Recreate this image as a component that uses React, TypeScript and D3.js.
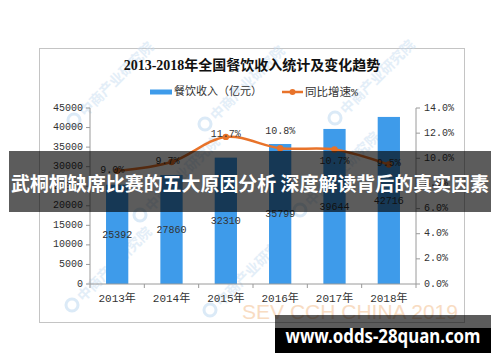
import React from 'react';
import * as d3 from 'd3';

const categories = ['2013年', '2014年', '2015年', '2016年', '2017年', '2018年'];
const revenue = [25392, 27860, 32310, 35799, 39644, 42716];
const growth = [9.0, 9.7, 11.7, 10.8, 10.7, 9.5];
const leftTicks = [0, 5000, 10000, 15000, 20000, 25000, 30000, 35000, 40000, 45000];
const rightTicks = [0, 2, 4, 6, 8, 10, 12, 14];
const title = '2013-2018年全国餐饮收入统计及变化趋势';
const seriesNames = ['餐饮收入（亿元）', '同比增速%'];
const bannerText = '武桐桐缺席比赛的五大原因分析 深度解读背后的真实因素';
const footerText = 'www.odds-28quan.com';
const watermark = '中商产业研究院';

// style-only: label nudges for the growth labels
const growthLabelNudge = [[-5, 0], [-4, -1], [0, -2], [0, -17], [0, 12], [0, -1]];
const watermarkSpots = [[74, 120], [205, 124], [335, 118], [72, 305], [210, 310], [140, 215], [300, 210]];

const W = 500, H = 362;
const plot = { left: 90, right: 416, top: 108, bottom: 284 };
const BLUE = '#3E9BEA';
const ORANGE = '#E8732A';
const MONO = '"Liberation Mono", "Noto Sans CJK SC", monospace';

export default function App() {
  const x = d3.scaleBand<string>().domain(categories).range([plot.left, plot.right]).padding(0);
  const yL = d3.scaleLinear().domain([0, 45000]).range([plot.bottom, plot.top]);
  const yR = d3.scaleLinear().domain([0, 14]).range([plot.bottom, plot.top]);
  const barW = x.bandwidth() * 0.41;
  const cx = (c: string) => (x(c) as number) + x.bandwidth() / 2;
  const pts: [number, number][] = categories.map((c, i) => [cx(c), yR(growth[i])]);
  const line = d3.line().curve(d3.curveCatmullRom.alpha(0.5))(pts) as string;
  const fmt1 = d3.format('.1f');
  const boundaries = [plot.left, ...categories.map(c => (x(c) as number) + x.bandwidth())];

  return (
    <svg width={W} height={H} style={{ position: 'fixed', left: 0, top: 0, background: '#fff' }}>
      <rect x={0} y={0} width={W} height={H} fill="#fff" />
      {/* chart frame */}
      <rect x={39.5} y={48.5} width={425} height={274} fill="#fff" stroke="#c4c4c4" />
      {/* watermarks */}
      {watermarkSpots.map(([wx, wy], i) => (
        <g key={i} transform={`translate(${wx},${wy}) rotate(-45)`} opacity={0.5}>
          <circle cx={0} cy={0} r={6} fill="none" stroke="#b9d6f0" strokeWidth={3} />
          <text x={10} y={0} dominantBaseline="central" fontSize={14} fontWeight="bold"
            fontFamily='"Noto Sans CJK SC", sans-serif' fill="#c9def2">{watermark}</text>
        </g>
      ))}
      <text x={350} y={311} textAnchor="middle" dominantBaseline="central" fontSize={21}
        fontFamily='"Liberation Sans", Arial, sans-serif' fill="#f7d4b4" opacity={0.8}>SEV CCH CHINA 2019</text>

      {/* title */}
      <text x={252} y={65} textAnchor="middle" dominantBaseline="central" fontSize={14} fontWeight="bold"
        fontFamily='"Liberation Serif", "Noto Sans CJK SC", serif' fill="#111">{title}</text>

      {/* legend */}
      <rect x={150} y={89.5} width={22} height={5} fill={BLUE} />
      <text x={174} y={92} dominantBaseline="central" fontSize={11} fontFamily={MONO} fill="#333">{seriesNames[0]}</text>
      <line x1={282} x2={303} y1={92} y2={92} stroke={ORANGE} strokeWidth={2.5} />
      <circle cx={292.5} cy={92} r={3} fill={ORANGE} />
      <text x={305} y={92} dominantBaseline="central" fontSize={11.5} fontFamily={MONO} fill="#333">{seriesNames[1]}</text>

      {/* bars */}
      {categories.map((c, i) => (
        <rect key={c} x={cx(c) - barW / 2} y={yL(revenue[i])} width={barW} height={plot.bottom - yL(revenue[i])} fill={BLUE} />
      ))}
      {categories.map((c, i) => (
        <text key={'bl' + c} x={cx(c)} y={(yL(revenue[i]) + plot.bottom) / 2 + 1} textAnchor="middle" dominantBaseline="central"
          fontSize={10} fontFamily={MONO} fill="#333">{revenue[i]}</text>
      ))}

      {/* axes */}
      <line x1={plot.left} x2={plot.left} y1={plot.top} y2={plot.bottom} stroke="#9a9a9a" />
      <line x1={plot.right} x2={plot.right} y1={plot.top} y2={plot.bottom} stroke="#9a9a9a" />
      <line x1={plot.left} x2={plot.right} y1={plot.bottom} y2={plot.bottom} stroke="#9a9a9a" />
      {leftTicks.map(t => (
        <g key={'l' + t}>
          <line x1={plot.left - 4} x2={plot.left} y1={yL(t)} y2={yL(t)} stroke="#9a9a9a" />
          <text x={83} y={yL(t)} textAnchor="end" dominantBaseline="central" fontSize={10} fontFamily={MONO} fill="#333">{t}</text>
        </g>
      ))}
      {rightTicks.map(t => (
        <g key={'r' + t}>
          <line x1={plot.right} x2={plot.right + 4} y1={yR(t)} y2={yR(t)} stroke="#9a9a9a" />
          <text x={424} y={yR(t)} dominantBaseline="central" fontSize={10} fontFamily={MONO} fill="#333">{fmt1(t) + '%'}</text>
        </g>
      ))}
      {boundaries.map((b, i) => (
        <line key={'b' + i} x1={b} x2={b} y1={plot.bottom} y2={plot.bottom + 4} stroke="#9a9a9a" />
      ))}
      {categories.map(c => (
        <text key={'c' + c} x={cx(c)} y={299} textAnchor="middle" dominantBaseline="central" fontSize={11}
          fontFamily={MONO} fill="#333">{c}</text>
      ))}

      {/* growth line */}
      <path d={line} fill="none" stroke={ORANGE} strokeWidth={2.5} />
      {pts.map(([px, py], i) => (
        <circle key={'p' + i} cx={px} cy={py} r={3.2} fill={ORANGE} />
      ))}
      {pts.map(([px, py], i) => (
        <text key={'gl' + i} x={px + growthLabelNudge[i][0]} y={py + growthLabelNudge[i][1]} textAnchor="middle"
          dominantBaseline="central" fontSize={10} fontFamily={MONO} fill="#333">{fmt1(growth[i]) + '%'}</text>
      ))}

      {/* overlay banner */}
      <rect x={9} y={151} width={482} height={61} fill="rgba(0,0,0,0.64)" />
      <text x={250} y={182} textAnchor="middle" dominantBaseline="central" fontSize={19.8} fontWeight="bold"
        fontFamily='"Noto Sans CJK SC", sans-serif' fill="#fff" textLength={478} lengthAdjust="spacingAndGlyphs">{bannerText}</text>

      {/* footer banner */}
      <rect x={275} y={315} width={216} height={13} fill="rgba(0,0,0,0.64)" />
      <rect x={275} y={328} width={216} height={25} fill="#000" />
      <text x={383} y={336} textAnchor="middle" dominantBaseline="central" fontSize={19} fontWeight="bold"
        fontFamily='"Noto Sans", "DejaVu Sans", sans-serif' fill="#fff" textLength={195} lengthAdjust="spacingAndGlyphs">{footerText}</text>
    </svg>
  );
}
